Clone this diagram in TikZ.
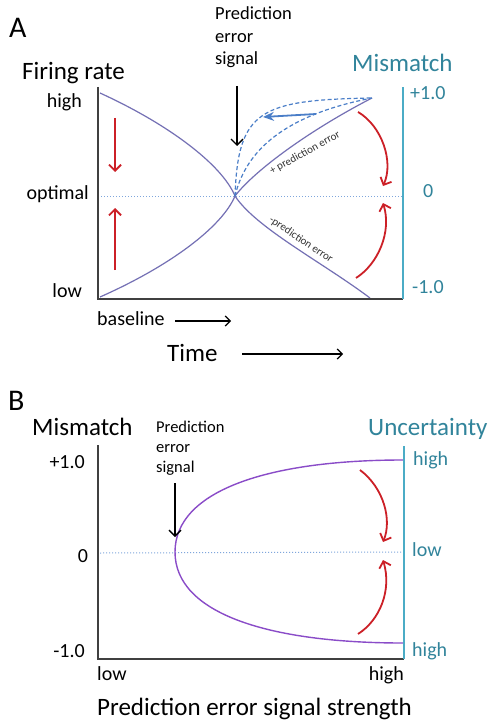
\documentclass[tikz,border=0pt]{standalone}
\usepackage{fontspec}
\setmainfont{Carlito}
\usetikzlibrary{arrows.meta}
\definecolor{tealtxt}{HTML}{31849B}
\definecolor{tealax}{HTML}{4BACC6}
\definecolor{purA}{HTML}{7470B4}
\definecolor{purB}{HTML}{8A4CC8}
\definecolor{myred}{HTML}{CC2027}
\definecolor{dashblue}{HTML}{4A7EC8}
\definecolor{dotblue}{HTML}{7FA6DC}
\definecolor{axgray}{HTML}{404040}
\tikzset{
  big/.style={font=\fontsize{25}{30}\selectfont, inner sep=0pt, anchor=base west},
  tick/.style={font=\fontsize{20}{24}\selectfont, inner sep=0pt},
  pes/.style={font=\fontsize{18.5}{22}\selectfont, inner sep=0pt, anchor=base west},
  tiny/.style={font=\fontsize{11}{12}\selectfont, inner sep=0pt, text=black!80},
  axisline/.style={draw=axgray, line width=1.8pt},
  tealaxis/.style={draw=tealax, line width=1.5pt},
  dotline/.style={draw=dotblue, line width=1pt, dotted},
  curveA/.style={draw=purA, line width=1.2pt},
  curveB/.style={draw=purB, line width=1.4pt},
  dashcurve/.style={draw=dashblue, line width=1.2pt, dash pattern=on 4pt off 2.5pt},
  redarrow/.style={draw=myred, line width=1.8pt, -{Straight Barb[length=6pt,width=12pt]}},
  blackarrow/.style={draw=black, line width=1.4pt, -{Straight Barb[length=6pt,width=12pt]}},
  plainarrow/.style={draw=black, line width=1.2pt, -{Straight Barb[length=5pt,width=10pt]}},
  bluearrow/.style={draw=dashblue, line width=1.8pt, -{Stealth[length=11pt,width=9pt]}}
}
\begin{document}
\begin{tikzpicture}[x=1pt,y=-1pt]
\useasboundingbox[fill=white] (0,0) rectangle (492,722);

% ================= Panel A =================
\node[font=\fontsize{30}{34}\selectfont, inner sep=0pt, anchor=base west] (labA) at (9,38) {A};
\node[big] (fr) at (22,80) {Firing rate};
\node[big, text=tealtxt] (mmA) at (352,72) {Mismatch};
\node[pes] (pA1) at (215,20) {Prediction};
\node[pes] (pA2) at (215,43) {error};
\node[pes] (pA3) at (215,65) {signal};

\coordinate (Atop) at (98,87);
\coordinate (Aor) at (98,299);
\coordinate (Abr) at (403,299);
\coordinate (Artop) at (403,87);
\coordinate (Adl) at (98,196);
\coordinate (Adr) at (403,196);
\coordinate (X) at (235,196);
\coordinate (Ahl) at (100,93);
\coordinate (All) at (100,297);
\coordinate (Ahr) at (372,98);
\coordinate (Alr) at (370,298);

\draw[dotline] (Adl) -- (Adr);
\draw[curveA] (Ahl) .. controls (170,125) and (222,165) .. (X);
\draw[curveA] (All) .. controls (170,266) and (222,227) .. (X);
\draw[curveA] (X) .. controls (255,170) and (310,130) .. (Ahr);
\draw[curveA] (X) .. controls (256,228) and (322,262) .. (Alr);
\draw[dashcurve] (X) .. controls (238,110) and (260,100) .. (Ahr);
\draw[dashcurve] (X) .. controls (246,150) and (285,115) .. (Ahr);

\draw[axisline] (Atop) -- (Aor) -- (Abr);
\draw[tealaxis] (Abr) -- (Artop);

\node[tick, anchor=base east] (hiA) at (82,108) {high};
\node[tick, anchor=base east] (opA) at (89,200) {optimal};
\node[tick, anchor=base east] (loA) at (82,297) {low};
\node[tick, anchor=base west, text=tealtxt] (p1A) at (410,100) {+1.0};
\node[tick, anchor=base west, text=tealtxt] (z0A) at (423,197) {0};
\node[tick, anchor=base west, text=tealtxt] (m1A) at (412,293) {-1.0};

\node[tiny, rotate=29] (ppe) at (305,153) {+ prediction error};
\node[tiny, rotate=-34] (mpe) at (301,240) {-prediction error};

% arrows in A
\coordinate (sigAs) at (237,86);
\coordinate (sigAe) at (237,146);
\draw[blackarrow] (sigAs) -- (sigAe);
\coordinate (blS) at (316,114);
\coordinate (blE) at (263,117);
\draw[bluearrow] (blS) -- (blE);
\coordinate (rd1s) at (115,118);
\coordinate (rd1e) at (115,172);
\draw[redarrow] (rd1s) -- (rd1e);
\coordinate (ru1s) at (115,270);
\coordinate (ru1e) at (115,208);
\draw[redarrow] (ru1s) -- (ru1e);
\coordinate (rc1s) at (358,112);
\coordinate (rc1e) at (383,186);
\draw[redarrow] (rc1s) .. controls (382,126) and (394,162) .. (rc1e);
\coordinate (rc2s) at (356,278);
\coordinate (rc2e) at (383,203);
\draw[redarrow] (rc2s) .. controls (378,264) and (392,232) .. (rc2e);

\node[tick, anchor=base west] (bl) at (97,325) {baseline};
\coordinate (bas) at (175,321);
\coordinate (bae) at (231,321);
\draw[plainarrow] (bas) -- (bae);
\node[big] (time) at (167,361) {Time};
\coordinate (tas) at (242,354);
\coordinate (tae) at (343,354);
\draw[plainarrow] (tas) -- (tae);

% ================= Panel B =================
\node[font=\fontsize{30}{34}\selectfont, inner sep=0pt, anchor=base west] (labB) at (8,410) {B};
\node[big] (mmB) at (32,435) {Mismatch};
\node[big, text=tealtxt] (unc) at (368,435) {Uncertainty};
\node[pes, font=\fontsize{16.5}{20}\selectfont] (pB1) at (156,432) {Prediction};
\node[pes, font=\fontsize{16.5}{20}\selectfont] (pB2) at (156,452) {error};
\node[pes, font=\fontsize{16.5}{20}\selectfont] (pB3) at (156,472) {signal};

\coordinate (Btop) at (98,445);
\coordinate (Bor) at (98,659);
\coordinate (Bbr) at (404,659);
\coordinate (Brtop) at (404,446);
\coordinate (Bdl) at (100,553);
\coordinate (Bdr) at (404,552);
\coordinate (V) at (175,552);
\coordinate (Bhi) at (403,460);
\coordinate (Blo) at (403,643);

\draw[dotline] (Bdl) -- (Bdr);
\draw[curveB] (Bhi) .. controls (270,460) and (175,490) .. (V)
  .. controls (175,614) and (270,643) .. (Blo);
\draw[axisline] (Btop) -- (Bor) -- (Bbr);
\draw[tealaxis] (Bbr) -- (Brtop);

\node[tick, anchor=base east] (p1B) at (85,468) {+1.0};
\node[tick, anchor=base] (z0B) at (83,562) {0};
\node[tick, anchor=base east] (m1B) at (85,657) {-1.0};
\node[tick, anchor=base west, text=tealtxt] (hiB1) at (413,465) {high};
\node[tick, anchor=base west, text=tealtxt] (loB) at (412,556) {low};
\node[tick, anchor=base west, text=tealtxt] (hiB2) at (412,656) {high};
\node[tick, anchor=base west] (loX) at (97,680) {low};
\node[tick, anchor=base east] (hiX) at (404,680) {high};
\node[big] (pess) at (97,715) {Prediction error signal strength};

\coordinate (sigBs) at (175,483);
\coordinate (sigBe) at (175,537);
\draw[blackarrow] (sigBs) -- (sigBe);
\coordinate (rc3s) at (360,470);
\coordinate (rc3e) at (383,542);
\draw[redarrow] (rc3s) .. controls (384,488) and (392,520) .. (rc3e);
\coordinate (rc4s) at (358,634);
\coordinate (rc4e) at (383,560);
\draw[redarrow] (rc4s) .. controls (380,620) and (392,590) .. (rc4e);
\end{tikzpicture}
\end{document}
